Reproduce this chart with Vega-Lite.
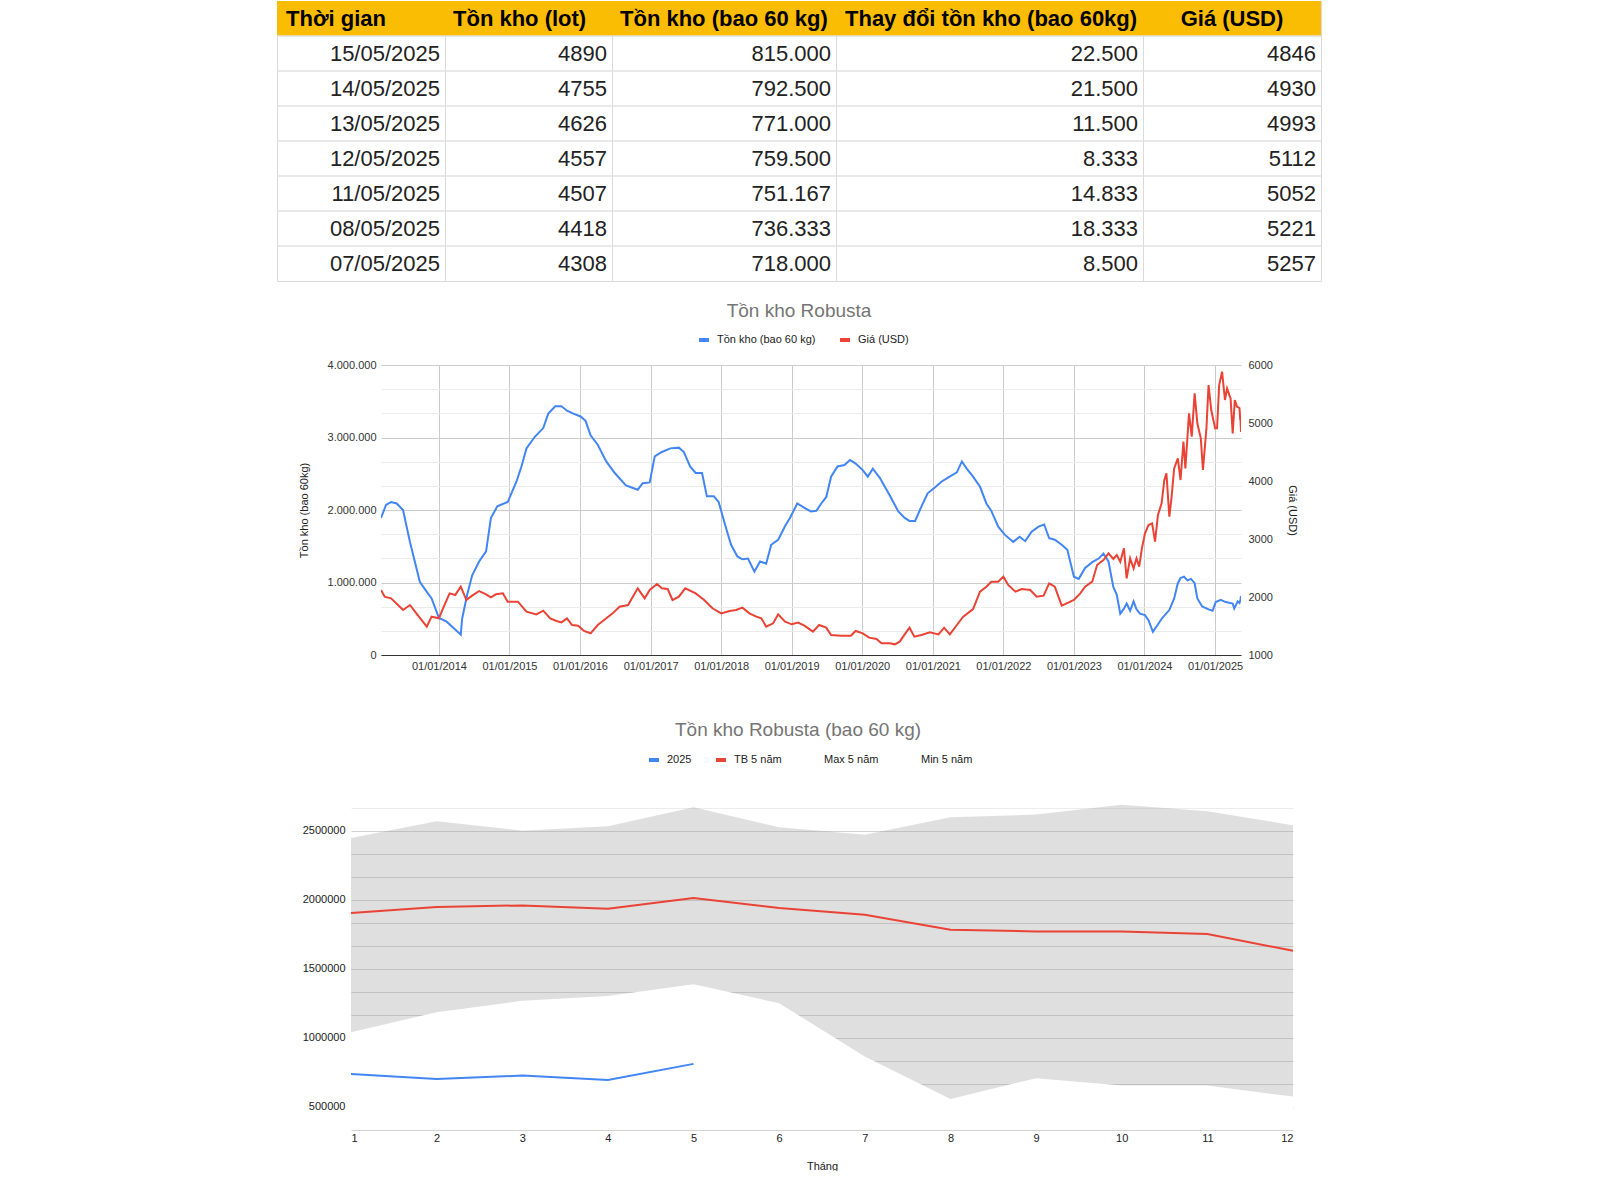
{
  "$schema": "https://vega.github.io/schema/vega-lite/v6.json",
  "background": "white",
  "padding": {"left": 275, "top": 0, "right": 0, "bottom": 0},
  "config": {
    "font": "Liberation Sans",
    "locale": {"number": {"decimal": ",", "thousands": ".", "grouping": [3], "currency": ["", ""]}},
    "view": {"stroke": null},
    "axis": {"labelFont": "Liberation Sans", "titleFont": "Liberation Sans", "labelFontSize": 11, "titleFontSize": 11, "titleFontWeight": "normal", "labelColor": "#333333", "titleColor": "#222222"},
    "legend": {"labelFont": "Liberation Sans", "labelFontSize": 11, "labelColor": "#222222"},
    "title": {"font": "Liberation Sans", "fontSize": 19, "fontWeight": "normal", "color": "#757575"}
  },
  "datasets": {
    "tbl": [
      {"r": "1", "tg": "15/05/2025", "lot": 4890, "bao": 815000, "td": 22500, "gia": 4846},
      {"r": "2", "tg": "14/05/2025", "lot": 4755, "bao": 792500, "td": 21500, "gia": 4930},
      {"r": "3", "tg": "13/05/2025", "lot": 4626, "bao": 771000, "td": 11500, "gia": 4993},
      {"r": "4", "tg": "12/05/2025", "lot": 4557, "bao": 759500, "td": 8333, "gia": 5112},
      {"r": "5", "tg": "11/05/2025", "lot": 4507, "bao": 751167, "td": 14833, "gia": 5052},
      {"r": "6", "tg": "08/05/2025", "lot": 4418, "bao": 736333, "td": 18333, "gia": 5221},
      {"r": "7", "tg": "07/05/2025", "lot": 4308, "bao": 718000, "td": 8500, "gia": 5257}
    ],
    "hdr": [
      {"k": "tg", "label": "Thời gian"},
      {"k": "lot", "label": "Tồn kho (lot)"},
      {"k": "bao", "label": "Tồn kho (bao 60 kg)"},
      {"k": "td", "label": "Thay đổi tồn kho (bao 60kg)"},
      {"k": "gia", "label": "Giá (USD)"}
    ],
    "ton": [
      {"d": "2013-03-07", "v": 1890000}, {"d": "2013-04-02", "v": 2070000}, {"d": "2013-04-28", "v": 2110000}, {"d": "2013-05-27", "v": 2090000},
      {"d": "2013-06-29", "v": 2000000}, {"d": "2013-08-04", "v": 1560000}, {"d": "2013-09-24", "v": 1010000}, {"d": "2013-10-30", "v": 870000},
      {"d": "2013-11-24", "v": 780000}, {"d": "2014-01-01", "v": 510000}, {"d": "2014-02-10", "v": 460000}, {"d": "2014-03-19", "v": 370000},
      {"d": "2014-04-24", "v": 280000}, {"d": "2014-05-01", "v": 500000}, {"d": "2014-05-27", "v": 830000}, {"d": "2014-06-22", "v": 1100000},
      {"d": "2014-07-28", "v": 1290000}, {"d": "2014-09-02", "v": 1430000}, {"d": "2014-09-27", "v": 1890000}, {"d": "2014-10-30", "v": 2050000},
      {"d": "2014-12-23", "v": 2110000}, {"d": "2015-02-06", "v": 2390000}, {"d": "2015-03-04", "v": 2600000}, {"d": "2015-03-30", "v": 2850000},
      {"d": "2015-05-12", "v": 3010000}, {"d": "2015-06-25", "v": 3130000}, {"d": "2015-07-21", "v": 3330000}, {"d": "2015-08-26", "v": 3430000},
      {"d": "2015-09-27", "v": 3430000}, {"d": "2015-10-26", "v": 3370000}, {"d": "2015-11-28", "v": 3330000}, {"d": "2016-01-04", "v": 3290000},
      {"d": "2016-01-30", "v": 3230000}, {"d": "2016-02-25", "v": 3030000}, {"d": "2016-04-02", "v": 2900000}, {"d": "2016-05-16", "v": 2670000},
      {"d": "2016-06-29", "v": 2510000}, {"d": "2016-08-26", "v": 2340000}, {"d": "2016-10-26", "v": 2280000}, {"d": "2016-11-21", "v": 2370000},
      {"d": "2016-12-27", "v": 2380000}, {"d": "2017-01-22", "v": 2740000}, {"d": "2017-02-28", "v": 2800000}, {"d": "2017-04-13", "v": 2850000},
      {"d": "2017-05-27", "v": 2860000}, {"d": "2017-06-22", "v": 2800000}, {"d": "2017-07-24", "v": 2600000}, {"d": "2017-08-22", "v": 2510000},
      {"d": "2017-09-24", "v": 2510000}, {"d": "2017-10-19", "v": 2190000}, {"d": "2017-11-24", "v": 2190000}, {"d": "2017-12-19", "v": 2110000},
      {"d": "2018-01-22", "v": 1790000}, {"d": "2018-02-21", "v": 1520000}, {"d": "2018-03-26", "v": 1360000}, {"d": "2018-04-21", "v": 1320000},
      {"d": "2018-05-20", "v": 1330000}, {"d": "2018-06-22", "v": 1150000}, {"d": "2018-07-21", "v": 1290000}, {"d": "2018-08-22", "v": 1260000},
      {"d": "2018-09-17", "v": 1520000}, {"d": "2018-10-23", "v": 1590000}, {"d": "2018-11-28", "v": 1780000}, {"d": "2018-12-23", "v": 1890000},
      {"d": "2019-01-30", "v": 2090000}, {"d": "2019-03-08", "v": 2030000}, {"d": "2019-04-10", "v": 1980000}, {"d": "2019-05-09", "v": 1990000},
      {"d": "2019-06-03", "v": 2090000}, {"d": "2019-06-29", "v": 2180000}, {"d": "2019-07-24", "v": 2460000}, {"d": "2019-08-26", "v": 2600000},
      {"d": "2019-10-01", "v": 2620000}, {"d": "2019-10-30", "v": 2690000}, {"d": "2019-11-28", "v": 2640000}, {"d": "2020-01-04", "v": 2550000},
      {"d": "2020-01-30", "v": 2460000}, {"d": "2020-02-25", "v": 2570000}, {"d": "2020-04-02", "v": 2440000}, {"d": "2020-05-23", "v": 2200000},
      {"d": "2020-07-06", "v": 1980000}, {"d": "2020-08-08", "v": 1890000}, {"d": "2020-09-02", "v": 1850000}, {"d": "2020-10-01", "v": 1850000},
      {"d": "2020-11-03", "v": 2050000}, {"d": "2020-12-05", "v": 2230000}, {"d": "2021-01-11", "v": 2310000}, {"d": "2021-02-14", "v": 2390000},
      {"d": "2021-03-22", "v": 2450000}, {"d": "2021-05-05", "v": 2520000}, {"d": "2021-05-31", "v": 2670000}, {"d": "2021-06-25", "v": 2570000},
      {"d": "2021-07-28", "v": 2460000}, {"d": "2021-09-02", "v": 2320000}, {"d": "2021-10-05", "v": 2090000}, {"d": "2021-10-30", "v": 1990000},
      {"d": "2021-12-05", "v": 1770000}, {"d": "2022-01-08", "v": 1660000}, {"d": "2022-02-21", "v": 1560000}, {"d": "2022-03-26", "v": 1630000},
      {"d": "2022-04-24", "v": 1570000}, {"d": "2022-05-27", "v": 1700000}, {"d": "2022-07-02", "v": 1770000}, {"d": "2022-07-31", "v": 1800000},
      {"d": "2022-08-26", "v": 1610000}, {"d": "2022-09-24", "v": 1590000}, {"d": "2022-10-30", "v": 1520000}, {"d": "2022-11-28", "v": 1450000},
      {"d": "2023-01-01", "v": 1080000}, {"d": "2023-01-26", "v": 1050000}, {"d": "2023-02-28", "v": 1200000}, {"d": "2023-04-06", "v": 1280000},
      {"d": "2023-05-09", "v": 1330000}, {"d": "2023-06-03", "v": 1400000}, {"d": "2023-06-29", "v": 1290000}, {"d": "2023-07-24", "v": 940000},
      {"d": "2023-08-11", "v": 830000}, {"d": "2023-08-29", "v": 570000}, {"d": "2023-09-17", "v": 640000}, {"d": "2023-10-01", "v": 710000},
      {"d": "2023-10-19", "v": 610000}, {"d": "2023-11-06", "v": 740000}, {"d": "2023-11-21", "v": 630000}, {"d": "2023-12-09", "v": 570000},
      {"d": "2024-01-04", "v": 550000}, {"d": "2024-01-22", "v": 480000}, {"d": "2024-02-14", "v": 320000}, {"d": "2024-03-08", "v": 410000},
      {"d": "2024-04-02", "v": 510000}, {"d": "2024-05-09", "v": 620000}, {"d": "2024-06-03", "v": 780000}, {"d": "2024-06-22", "v": 990000},
      {"d": "2024-07-06", "v": 1060000}, {"d": "2024-07-24", "v": 1080000}, {"d": "2024-08-11", "v": 1030000}, {"d": "2024-08-29", "v": 1050000},
      {"d": "2024-09-17", "v": 990000}, {"d": "2024-10-01", "v": 780000}, {"d": "2024-10-26", "v": 670000}, {"d": "2024-11-28", "v": 630000},
      {"d": "2024-12-19", "v": 610000}, {"d": "2025-01-04", "v": 730000}, {"d": "2025-01-30", "v": 760000}, {"d": "2025-02-25", "v": 730000},
      {"d": "2025-04-02", "v": 710000}, {"d": "2025-04-10", "v": 640000}, {"d": "2025-04-28", "v": 740000}, {"d": "2025-05-07", "v": 718000},
      {"d": "2025-05-12", "v": 759500}, {"d": "2025-05-15", "v": 815000}
    ],
    "gia": [
      {"d": "2013-03-07", "v": 2121}, {"d": "2013-03-26", "v": 2006}, {"d": "2013-04-28", "v": 1977}, {"d": "2013-06-03", "v": 1862},
      {"d": "2013-06-29", "v": 1776}, {"d": "2013-08-04", "v": 1862}, {"d": "2013-09-06", "v": 1718}, {"d": "2013-10-30", "v": 1489},
      {"d": "2013-11-24", "v": 1661}, {"d": "2014-01-01", "v": 1632}, {"d": "2014-01-26", "v": 1833}, {"d": "2014-02-25", "v": 2063},
      {"d": "2014-03-26", "v": 2034}, {"d": "2014-04-24", "v": 2178}, {"d": "2014-05-23", "v": 1948}, {"d": "2014-06-22", "v": 2023},
      {"d": "2014-07-28", "v": 2103}, {"d": "2014-09-02", "v": 2046}, {"d": "2014-09-27", "v": 1994}, {"d": "2014-10-23", "v": 2046},
      {"d": "2014-11-28", "v": 2063}, {"d": "2014-12-23", "v": 1920}, {"d": "2015-02-14", "v": 1920}, {"d": "2015-03-30", "v": 1747},
      {"d": "2015-05-20", "v": 1701}, {"d": "2015-06-25", "v": 1764}, {"d": "2015-07-31", "v": 1632}, {"d": "2015-09-02", "v": 1586},
      {"d": "2015-09-27", "v": 1563}, {"d": "2015-10-26", "v": 1632}, {"d": "2015-11-21", "v": 1517}, {"d": "2015-12-23", "v": 1506},
      {"d": "2016-01-22", "v": 1414}, {"d": "2016-02-25", "v": 1374}, {"d": "2016-04-02", "v": 1517}, {"d": "2016-05-05", "v": 1603},
      {"d": "2016-06-18", "v": 1718}, {"d": "2016-07-24", "v": 1833}, {"d": "2016-09-06", "v": 1862}, {"d": "2016-10-26", "v": 2149},
      {"d": "2016-12-01", "v": 1977}, {"d": "2016-12-27", "v": 2121}, {"d": "2017-02-03", "v": 2224}, {"d": "2017-02-28", "v": 2149},
      {"d": "2017-03-30", "v": 2138}, {"d": "2017-04-24", "v": 1948}, {"d": "2017-05-27", "v": 2006}, {"d": "2017-06-29", "v": 2149},
      {"d": "2017-08-22", "v": 2063}, {"d": "2017-10-05", "v": 1948}, {"d": "2017-11-17", "v": 1805}, {"d": "2018-01-01", "v": 1718},
      {"d": "2018-02-14", "v": 1759}, {"d": "2018-03-19", "v": 1776}, {"d": "2018-04-21", "v": 1816}, {"d": "2018-05-27", "v": 1718},
      {"d": "2018-07-02", "v": 1661}, {"d": "2018-07-28", "v": 1632}, {"d": "2018-08-22", "v": 1489}, {"d": "2018-09-27", "v": 1546},
      {"d": "2018-10-23", "v": 1701}, {"d": "2018-11-28", "v": 1575}, {"d": "2019-01-01", "v": 1529}, {"d": "2019-02-03", "v": 1560},
      {"d": "2019-03-08", "v": 1506}, {"d": "2019-04-21", "v": 1402}, {"d": "2019-05-23", "v": 1517}, {"d": "2019-06-29", "v": 1471},
      {"d": "2019-07-24", "v": 1345}, {"d": "2019-09-13", "v": 1333}, {"d": "2019-11-03", "v": 1333}, {"d": "2019-11-28", "v": 1414},
      {"d": "2020-01-04", "v": 1374}, {"d": "2020-02-06", "v": 1299}, {"d": "2020-03-15", "v": 1276}, {"d": "2020-04-10", "v": 1201},
      {"d": "2020-05-23", "v": 1201}, {"d": "2020-06-18", "v": 1184}, {"d": "2020-07-13", "v": 1230}, {"d": "2020-08-08", "v": 1356},
      {"d": "2020-09-02", "v": 1471}, {"d": "2020-09-27", "v": 1316}, {"d": "2020-11-03", "v": 1345}, {"d": "2020-12-16", "v": 1391},
      {"d": "2021-01-30", "v": 1356}, {"d": "2021-02-28", "v": 1471}, {"d": "2021-03-30", "v": 1356}, {"d": "2021-05-05", "v": 1517},
      {"d": "2021-06-07", "v": 1661}, {"d": "2021-07-28", "v": 1793}, {"d": "2021-09-02", "v": 2092}, {"d": "2021-10-05", "v": 2178},
      {"d": "2021-10-30", "v": 2264}, {"d": "2021-12-05", "v": 2264}, {"d": "2022-01-01", "v": 2351}, {"d": "2022-01-26", "v": 2207},
      {"d": "2022-03-04", "v": 2092}, {"d": "2022-04-06", "v": 2138}, {"d": "2022-05-20", "v": 2121}, {"d": "2022-06-22", "v": 2006},
      {"d": "2022-07-28", "v": 2023}, {"d": "2022-08-26", "v": 2236}, {"d": "2022-09-24", "v": 2178}, {"d": "2022-10-30", "v": 1851},
      {"d": "2022-11-24", "v": 1891}, {"d": "2023-01-01", "v": 1948}, {"d": "2023-02-03", "v": 2063}, {"d": "2023-02-28", "v": 2178},
      {"d": "2023-04-06", "v": 2264}, {"d": "2023-05-01", "v": 2552}, {"d": "2023-06-03", "v": 2638}, {"d": "2023-06-29", "v": 2753},
      {"d": "2023-07-24", "v": 2655}, {"d": "2023-08-11", "v": 2724}, {"d": "2023-08-29", "v": 2609}, {"d": "2023-09-17", "v": 2839},
      {"d": "2023-10-01", "v": 2322}, {"d": "2023-10-19", "v": 2667}, {"d": "2023-11-06", "v": 2494}, {"d": "2023-11-21", "v": 2667},
      {"d": "2023-12-05", "v": 2523}, {"d": "2023-12-19", "v": 2839}, {"d": "2024-01-04", "v": 3098}, {"d": "2024-01-22", "v": 3241},
      {"d": "2024-02-10", "v": 3270}, {"d": "2024-02-25", "v": 2954}, {"d": "2024-03-11", "v": 3414}, {"d": "2024-03-30", "v": 3615},
      {"d": "2024-04-13", "v": 4017}, {"d": "2024-04-24", "v": 4132}, {"d": "2024-05-09", "v": 3385}, {"d": "2024-05-20", "v": 3701},
      {"d": "2024-06-03", "v": 4218}, {"d": "2024-06-22", "v": 4391}, {"d": "2024-07-06", "v": 4017}, {"d": "2024-07-21", "v": 4678},
      {"d": "2024-07-31", "v": 4218}, {"d": "2024-08-19", "v": 5167}, {"d": "2024-09-02", "v": 4764}, {"d": "2024-09-17", "v": 5511},
      {"d": "2024-10-01", "v": 4994}, {"d": "2024-10-19", "v": 4736}, {"d": "2024-10-30", "v": 4190}, {"d": "2024-11-17", "v": 4908},
      {"d": "2024-11-28", "v": 5655}, {"d": "2024-12-12", "v": 5224}, {"d": "2025-01-01", "v": 4908}, {"d": "2025-01-11", "v": 4908},
      {"d": "2025-01-22", "v": 5655}, {"d": "2025-02-06", "v": 5885}, {"d": "2025-02-21", "v": 5397}, {"d": "2025-03-04", "v": 5598},
      {"d": "2025-03-22", "v": 5425}, {"d": "2025-04-02", "v": 4822}, {"d": "2025-04-13", "v": 5397}, {"d": "2025-04-24", "v": 5282},
      {"d": "2025-05-07", "v": 5257}, {"d": "2025-05-08", "v": 5221}, {"d": "2025-05-11", "v": 5052}, {"d": "2025-05-12", "v": 5112},
      {"d": "2025-05-13", "v": 4993}, {"d": "2025-05-14", "v": 4930}, {"d": "2025-05-15", "v": 4846}
    ],
    "mon": [
      {"m": 1, "max": 2447000, "min": 1041000, "tb": 1903000, "y2025": 739000},
      {"m": 2, "max": 2568000, "min": 1186000, "tb": 1947000, "y2025": 703000},
      {"m": 3, "max": 2500000, "min": 1268000, "tb": 1959000, "y2025": 727000},
      {"m": 4, "max": 2531000, "min": 1304000, "tb": 1935000, "y2025": 696000},
      {"m": 5, "max": 2669000, "min": 1389000, "tb": 2012000, "y2025": 812000},
      {"m": 6, "max": 2524000, "min": 1251000, "tb": 1940000, "y2025": null},
      {"m": 7, "max": 2471000, "min": 865000, "tb": 1891000, "y2025": null},
      {"m": 8, "max": 2597000, "min": 558000, "tb": 1783000, "y2025": null},
      {"m": 9, "max": 2616000, "min": 708000, "tb": 1770000, "y2025": null},
      {"m": 10, "max": 2688000, "min": 655000, "tb": 1770000, "y2025": null},
      {"m": 11, "max": 2640000, "min": 655000, "tb": 1751000, "y2025": null},
      {"m": 12, "max": 2539000, "min": 575000, "tb": 1630000, "y2025": null}
    ]
  },
  "spacing": 20,
  "resolve": {"scale": {"color": "independent", "x": "independent", "y": "independent"}, "axis": {"x": "independent", "y": "independent"}, "legend": {"color": "independent"}},
  "vconcat": [
    {
      "spacing": 0,
      "bounds": "flush",
      "hconcat": [
        {
          "width": 168, "height": 280,
          "view": {"stroke": "#dadada"},
          "layer": [
            {"data": {"name": "hdr"}, "transform": [{"filter": "datum.k === 'tg'"}], "mark": {"type": "rect", "color": "#fbbc04"},
             "encoding": {"y": {"datum": "h", "type": "ordinal", "scale": {"type": "band", "domain": ["h", "1", "2", "3", "4", "5", "6", "7"], "paddingInner": 0, "paddingOuter": 0}, "axis": null}}},
            {"data": {"name": "tbl"}, "mark": {"type": "rule", "color": "#e2e2e2", "strokeWidth": 1.5},
             "encoding": {"y": {"field": "r", "type": "ordinal", "bandPosition": 0}}},
            {"data": {"name": "hdr"}, "transform": [{"filter": "datum.k === 'tg'"}], "mark": {"type": "text", "align": "left", "dx": -75, "fontSize": 22, "fontWeight": "bold", "color": "#000000"},
             "encoding": {"y": {"datum": "h", "type": "ordinal"}, "text": {"field": "label"}}},
            {"data": {"name": "tbl"}, "mark": {"type": "text", "align": "right", "dx": 79, "fontSize": 22, "color": "#222222"},
             "encoding": {"y": {"field": "r", "type": "ordinal"}, "text": {"field": "tg"}}}
          ]
        },
        {
          "width": 167, "height": 280,
          "view": {"stroke": "#dadada"},
          "layer": [
            {"data": {"name": "hdr"}, "transform": [{"filter": "datum.k === 'lot'"}], "mark": {"type": "rect", "color": "#fbbc04"},
             "encoding": {"y": {"datum": "h", "type": "ordinal", "scale": {"type": "band", "domain": ["h", "1", "2", "3", "4", "5", "6", "7"], "paddingInner": 0, "paddingOuter": 0}, "axis": null}}},
            {"data": {"name": "tbl"}, "mark": {"type": "rule", "color": "#e2e2e2", "strokeWidth": 1.5},
             "encoding": {"y": {"field": "r", "type": "ordinal", "bandPosition": 0}}},
            {"data": {"name": "hdr"}, "transform": [{"filter": "datum.k === 'lot'"}], "mark": {"type": "text", "align": "left", "dx": -75.5, "fontSize": 22, "fontWeight": "bold", "color": "#000000"},
             "encoding": {"y": {"datum": "h", "type": "ordinal"}, "text": {"field": "label"}}},
            {"data": {"name": "tbl"}, "mark": {"type": "text", "align": "right", "dx": 78.5, "fontSize": 22, "color": "#222222"},
             "encoding": {"y": {"field": "r", "type": "ordinal"}, "text": {"field": "lot", "format": "d"}}}
          ]
        },
        {
          "width": 224, "height": 280,
          "view": {"stroke": "#dadada"},
          "layer": [
            {"data": {"name": "hdr"}, "transform": [{"filter": "datum.k === 'bao'"}], "mark": {"type": "rect", "color": "#fbbc04"},
             "encoding": {"y": {"datum": "h", "type": "ordinal", "scale": {"type": "band", "domain": ["h", "1", "2", "3", "4", "5", "6", "7"], "paddingInner": 0, "paddingOuter": 0}, "axis": null}}},
            {"data": {"name": "tbl"}, "mark": {"type": "rule", "color": "#e2e2e2", "strokeWidth": 1.5},
             "encoding": {"y": {"field": "r", "type": "ordinal", "bandPosition": 0}}},
            {"data": {"name": "hdr"}, "transform": [{"filter": "datum.k === 'bao'"}], "mark": {"type": "text", "align": "left", "dx": -104, "fontSize": 22, "fontWeight": "bold", "color": "#000000"},
             "encoding": {"y": {"datum": "h", "type": "ordinal"}, "text": {"field": "label"}}},
            {"data": {"name": "tbl"}, "mark": {"type": "text", "align": "right", "dx": 107, "fontSize": 22, "color": "#222222"},
             "encoding": {"y": {"field": "r", "type": "ordinal"}, "text": {"field": "bao", "format": ",d"}}}
          ]
        },
        {
          "width": 307, "height": 280,
          "view": {"stroke": "#dadada"},
          "layer": [
            {"data": {"name": "hdr"}, "transform": [{"filter": "datum.k === 'td'"}], "mark": {"type": "rect", "color": "#fbbc04"},
             "encoding": {"y": {"datum": "h", "type": "ordinal", "scale": {"type": "band", "domain": ["h", "1", "2", "3", "4", "5", "6", "7"], "paddingInner": 0, "paddingOuter": 0}, "axis": null}}},
            {"data": {"name": "tbl"}, "mark": {"type": "rule", "color": "#e2e2e2", "strokeWidth": 1.5},
             "encoding": {"y": {"field": "r", "type": "ordinal", "bandPosition": 0}}},
            {"data": {"name": "hdr"}, "transform": [{"filter": "datum.k === 'td'"}], "mark": {"type": "text", "align": "left", "dx": -144.5, "fontSize": 22, "fontWeight": "bold", "color": "#000000"},
             "encoding": {"y": {"datum": "h", "type": "ordinal"}, "text": {"field": "label"}}},
            {"data": {"name": "tbl"}, "mark": {"type": "text", "align": "right", "dx": 148.5, "fontSize": 22, "color": "#222222"},
             "encoding": {"y": {"field": "r", "type": "ordinal"}, "text": {"field": "td", "format": ",d"}}}
          ]
        },
        {
          "width": 178, "height": 280,
          "view": {"stroke": "#dadada"},
          "layer": [
            {"data": {"name": "hdr"}, "transform": [{"filter": "datum.k === 'gia'"}], "mark": {"type": "rect", "color": "#fbbc04"},
             "encoding": {"y": {"datum": "h", "type": "ordinal", "scale": {"type": "band", "domain": ["h", "1", "2", "3", "4", "5", "6", "7"], "paddingInner": 0, "paddingOuter": 0}, "axis": null}}},
            {"data": {"name": "tbl"}, "mark": {"type": "rule", "color": "#e2e2e2", "strokeWidth": 1.5},
             "encoding": {"y": {"field": "r", "type": "ordinal", "bandPosition": 0}}},
            {"data": {"name": "hdr"}, "transform": [{"filter": "datum.k === 'gia'"}], "mark": {"type": "text", "align": "center", "dx": 0, "fontSize": 22, "fontWeight": "bold", "color": "#000000"},
             "encoding": {"y": {"datum": "h", "type": "ordinal"}, "text": {"field": "label"}}},
            {"data": {"name": "tbl"}, "mark": {"type": "text", "align": "right", "dx": 84, "fontSize": 22, "color": "#222222"},
             "encoding": {"y": {"field": "r", "type": "ordinal"}, "text": {"field": "gia", "format": "d"}}}
          ]
        }
      ]
    },
    {
      "spacing": 50,
      "resolve": {"scale": {"color": "independent", "x": "independent", "y": "independent"}, "axis": {"x": "independent", "y": "independent"}, "legend": {"color": "independent"}},
      "vconcat": [
        {
          "spacing": 0,
          "resolve": {"scale": {"color": "independent", "x": "independent", "y": "independent"}, "axis": {"x": "independent", "y": "independent"}, "legend": {"color": "independent"}},
          "hconcat": [
            {"width": 1, "height": 1, "data": {"values": []}, "mark": "point"},
            {
              "width": 860, "height": 290,
              "title": {"text": "Tồn kho Robusta", "offset": 12, "frame": "group", "dx": -12},
              "layer": [
                {
                  "data": {"name": "ton"},
                  "mark": {"type": "line", "strokeWidth": 2, "clip": true},
                  "encoding": {
                    "x": {"field": "d", "type": "temporal",
                          "scale": {"type": "utc", "domain": [{"year": 2013, "month": 3, "date": 7, "utc": true}, {"year": 2025, "month": 5, "date": 15, "utc": true}]},
                          "axis": {"title": null, "format": "%d/%m/%Y", "labelOverlap": false, "ticks": false, "grid": true, "gridColor": "#cccccc", "domain": true, "domainColor": "#333333",
                                   "labelPadding": 5, "tickCount": 30,
                                   "values": [{"year": 2014, "month": 1, "date": 1, "utc": true}, {"year": 2015, "month": 1, "date": 1, "utc": true}, {"year": 2016, "month": 1, "date": 1, "utc": true},
                                              {"year": 2017, "month": 1, "date": 1, "utc": true}, {"year": 2018, "month": 1, "date": 1, "utc": true}, {"year": 2019, "month": 1, "date": 1, "utc": true},
                                              {"year": 2020, "month": 1, "date": 1, "utc": true}, {"year": 2021, "month": 1, "date": 1, "utc": true}, {"year": 2022, "month": 1, "date": 1, "utc": true},
                                              {"year": 2023, "month": 1, "date": 1, "utc": true}, {"year": 2024, "month": 1, "date": 1, "utc": true}, {"year": 2025, "month": 1, "date": 1, "utc": true}]}},
                    "y": {"field": "v", "type": "quantitative", "scale": {"domain": [0, 4000000], "nice": false},
                          "axis": {"orient": "left", "title": "Tồn kho (bao 60kg)", "titleX": -72, "titleY": 145, "minExtent": 103, "format": ",d", "ticks": false, "domain": false, "labelPadding": 5, "labelOverlap": false, "tickCount": 30,
                                   "values": [0, 333333.33, 666666.67, 1000000, 1333333.33, 1666666.67, 2000000, 2333333.33, 2666666.67, 3000000, 3333333.33, 3666666.67, 4000000],
                                   "labelExpr": "datum.value % 1000000 === 0 ? datum.label : ''",
                                   "grid": true, "gridColor": {"condition": {"test": "datum.value % 1000000 === 0", "value": "#cccccc"}, "value": "#ebebeb"}}},
                    "color": {"datum": "Tồn kho (bao 60 kg)", "type": "nominal",
                              "scale": {"domain": ["Tồn kho (bao 60 kg)", "Giá (USD)"], "range": ["#4285f4", "#ea4335"]},
                              "legend": {"orient": "none", "legendX": 316, "legendY": -32, "direction": "horizontal", "title": null, "symbolType": "stroke", "symbolStrokeWidth": 4, "symbolSize": 100, "columnPadding": 16, "labelOffset": 6}}
                  }
                },
                {
                  "data": {"name": "gia"},
                  "mark": {"type": "line", "strokeWidth": 2, "clip": true},
                  "encoding": {
                    "x": {"field": "d", "type": "temporal"},
                    "y": {"field": "v", "type": "quantitative", "scale": {"domain": [1000, 6000], "nice": false},
                          "axis": {"orient": "right", "title": "Giá (USD)", "format": "d", "ticks": false, "domain": false, "grid": false, "labelPadding": 7, "titlePadding": 14, "labelOverlap": false, "tickCount": 30,
                                   "values": [1000, 2000, 3000, 4000, 5000, 6000]}},
                    "color": {"datum": "Giá (USD)", "type": "nominal"}
                  }
                }
              ],
              "resolve": {"scale": {"y": "independent"}}
            }
          ]
        },
        {
          "spacing": 0,
          "resolve": {"scale": {"color": "independent", "x": "independent", "y": "independent"}, "axis": {"x": "independent", "y": "independent"}, "legend": {"color": "independent"}},
          "hconcat": [
            {"width": 1, "height": 1, "data": {"values": []}, "mark": "point"},
            {
              "width": 942, "height": 327,
              "title": {"text": "Tồn kho Robusta (bao 60 kg)", "offset": 13, "frame": "group", "dx": -24},
              "data": {"name": "mon"},
              "layer": [
                {
                  "mark": {"type": "area", "color": "#9e9e9e", "opacity": 0.33, "clip": true},
                  "encoding": {
                    "x": {"field": "m", "type": "quantitative", "scale": {"domain": [1, 12], "nice": false},
                          "axis": {"title": "Tháng", "values": [1, 2, 3, 4, 5, 6, 7, 8, 9, 10, 11, 12], "format": "d", "grid": false, "ticks": false, "domain": false, "labelPadding": 2, "titlePadding": 17, "labelColor": "#222222", "labelOverlap": false, "tickCount": 30}},
                    "y": {"field": "max", "type": "quantitative", "scale": {"domain": [333333.33, 2700000], "zero": false, "nice": false},
                          "axis": {"title": null, "minExtent": 73, "format": "d", "ticks": false, "domain": false, "labelPadding": 6, "labelColor": "#222222", "labelOverlap": false, "tickCount": 30,
                                   "values": [333333.33, 500000, 666666.67, 833333.33, 1000000, 1166666.67, 1333333.33, 1500000, 1666666.67, 1833333.33, 2000000, 2166666.67, 2333333.33, 2500000, 2666666.67],
                                   "labelExpr": "datum.value % 500000 === 0 ? datum.label : ''",
                                   "grid": true, "gridColor": {"condition": {"test": "datum.value > 2600000", "value": "#ececec"}, "value": "#d2d2d2"}}},
                    "y2": {"datum": 333333.33}
                  }
                },
                {
                  "mark": {"type": "area", "color": "#ffffff", "opacity": 1, "clip": true},
                  "encoding": {
                    "x": {"field": "m", "type": "quantitative"},
                    "y": {"field": "min", "type": "quantitative"},
                    "y2": {"datum": 333333.33}
                  }
                },
                {
                  "mark": {"type": "line", "strokeWidth": 2},
                  "encoding": {
                    "x": {"field": "m", "type": "quantitative"},
                    "y": {"field": "tb", "type": "quantitative"},
                    "color": {"datum": "TB 5 năm", "type": "nominal",
                              "scale": {"domain": ["2025", "TB 5 năm", "Max 5 năm", "Min 5 năm"], "range": ["#4285f4", "#ea4335", "#ffffff", "#ffffff"]},
                              "legend": {"orient": "none", "legendX": 296, "legendY": -50, "direction": "horizontal", "title": null, "symbolType": "stroke", "symbolStrokeWidth": 4, "symbolSize": 100, "columnPadding": 16, "labelOffset": 6}}
                  }
                },
                {
                  "mark": {"type": "line", "strokeWidth": 2},
                  "encoding": {
                    "x": {"field": "m", "type": "quantitative"},
                    "y": {"field": "y2025", "type": "quantitative"},
                    "color": {"datum": "2025", "type": "nominal"}
                  }
                }
              ]
            }
          ]
        }
      ]
    }
  ]
}
